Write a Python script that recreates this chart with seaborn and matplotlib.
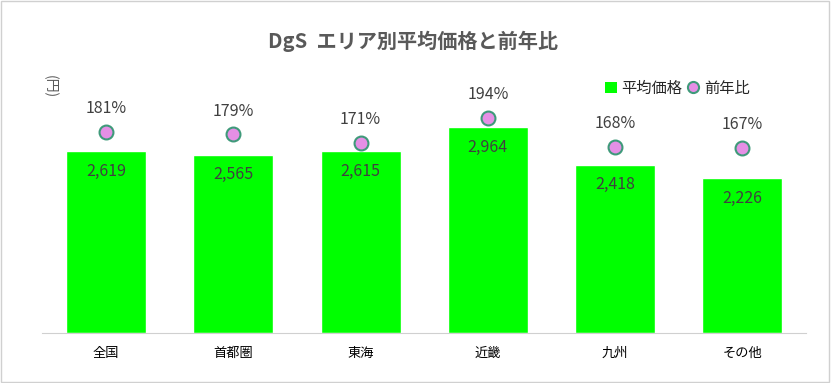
import pandas as pd
import matplotlib.pyplot as plt
import seaborn as sns
from matplotlib.lines import Line2D
from matplotlib.patches import Patch, Rectangle

# chart data
areas = ['全国', '首都圏', '東海', '近畿', '九州', 'その他']
avg_price = [2619, 2565, 2615, 2964, 2418, 2226]
yoy_pct = [181, 179, 171, 194, 168, 167]

df = pd.DataFrame({'area': areas, 'price': avg_price, 'yoy': yoy_pct})

sns.set_style('white')
plt.rcParams['font.family'] = ['Noto Sans CJK JP', 'DejaVu Sans']

fig = plt.figure(figsize=(8.31, 3.83), dpi=100)
ax = fig.add_axes([0.0511, 0.1305, 0.9188, 0.6345])

sns.barplot(data=df, x='area', y='price', color='#00FF00', width=0.63,
            saturation=1, ax=ax)
ax.set_ylim(0, 3500)
ax.set_xlim(-0.5, len(areas) - 0.5)

# value labels inside the bars
for i, v in enumerate(avg_price):
    ax.text(i, v - 285, f'{v:,}', ha='center', va='center',
            fontsize=11.5, color='#404040')

# secondary axis for year-over-year ratio
ax2 = ax.twinx()
ax2.plot(range(len(areas)), yoy_pct, linestyle='none', marker='o',
         markersize=10, markerfacecolor='#e58fe5', markeredgecolor='#3f9a7a',
         markeredgewidth=1.5)
ax2.set_ylim(0, 219)
for i, p in enumerate(yoy_pct):
    ax2.text(i, p + 21, f'{p}%', ha='center', va='center',
             fontsize=11.5, color='#404040')

for a in (ax, ax2):
    for s in a.spines.values():
        s.set_visible(False)
    a.set_yticks([])
    a.set_ylabel('')
ax.set_xlabel('')
ax.spines['bottom'].set_visible(True)
ax.spines['bottom'].set_color('#d0d0d0')

ax.set_xticks(range(len(areas)))
ax.set_xticklabels(areas, fontsize=9.5, color='#000000')
ax.tick_params(axis='x', which='major', length=0, pad=10)
ax.set_xticks([i - 0.5 for i in range(len(areas) + 1)], minor=True)
ax.tick_params(axis='x', which='minor', length=5, color='#d0d0d0', width=1)

# title and unit label
fig.text(0.497, 0.893, 'DgS  エリア別平均価格と前年比', ha='center', va='center',
         fontsize=14.5, fontweight='bold', color='#595959')
fig.text(0.060, 0.773, '(円)', ha='center', va='center', rotation=270,
         fontsize=10, color='#595959')

# legend
handles = [Patch(facecolor='#00FF00', edgecolor='none'),
           Line2D([], [], linestyle='none', marker='o', markersize=8,
                  markerfacecolor='#e58fe5', markeredgecolor='#3f9a7a',
                  markeredgewidth=1.5)]
fig.legend(handles, ['平均価格', '前年比'], loc='center',
           bbox_to_anchor=(0.815, 0.77), ncol=2, frameon=False,
           fontsize=11, handlelength=0.8, handletextpad=0.3,
           columnspacing=0.3)

# light border around the chart
fig.patches.append(Rectangle((0.001, 0.002), 0.997, 0.995, transform=fig.transFigure,
                             fill=False, edgecolor='#d0d0d0', linewidth=1))

fig.savefig('out.png', dpi=100)
